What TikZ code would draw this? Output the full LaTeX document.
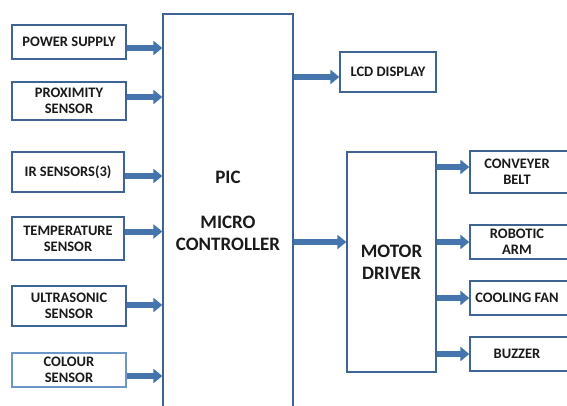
\documentclass[tikz,border=0pt]{standalone}
\usepackage{fontspec}
\setmainfont{Carlito}
\usetikzlibrary{arrows.meta}
\definecolor{bdr}{HTML}{3F6494}
\definecolor{bdrlight}{HTML}{6A96C8}
\definecolor{arrblue}{HTML}{4674AC}
\definecolor{txt}{HTML}{1A1A1A}
\begin{document}
\begin{tikzpicture}[x=1pt, y=-1pt,
	blk/.style={draw=bdr, line width=1.3pt, fill=white, text=txt, align=center, inner sep=0pt,
		font=\bfseries\fontsize{14.5}{16}\selectfont},
	bigblk/.style={blk, font=\bfseries\fontsize{19}{22}\selectfont},
	arr/.style={draw=arrblue, line width=6pt, -{Triangle[length=9pt, width=14pt]}}]
	% Frame:
	\clip (0, 0) rectangle (567, 406);
	\fill[white] (0, 0) rectangle (567, 406);
	% Blocks:
	\node[bigblk, minimum width=130pt, minimum height=394pt] (pic) at (228, 211){PIC\\[23pt]MICRO\\CONTROLLER};
	\node[blk, minimum width=114pt, minimum height=34pt] (ps) at (69, 42){POWER SUPPLY};
	\node[blk, minimum width=114pt, minimum height=38pt] (prox) at (69, 101){PROXIMITY\\SENSOR};
	\node[blk, minimum width=112pt, minimum height=40pt] (ir) at (68, 172){IR SENSORS(3)};
	\node[blk, minimum width=112pt, minimum height=43pt] (temp) at (68, 238.5){TEMPERATURE\\SENSOR};
	\node[blk, minimum width=114pt, minimum height=40pt] (ultra) at (69, 306){ULTRASONIC\\SENSOR};
	\node[blk, draw=bdrlight, minimum width=114pt, minimum height=34pt] (col) at (69, 370){COLOUR\\SENSOR};
	\node[blk, minimum width=96pt, minimum height=40pt] (lcd) at (388, 72){LCD DISPLAY};
	\node[bigblk, minimum width=89pt, minimum height=220pt] (mot) at (391.5, 262){MOTOR\\DRIVER};
	\node[blk, minimum width=110pt, minimum height=42pt] (conv) at (525, 172){\hspace*{-16pt}CONVEYER\\\hspace*{-16pt}BELT};
	\node[blk, minimum width=110pt, minimum height=34pt] (rob) at (525, 242){\hspace*{-16pt}ROBOTIC\\\hspace*{-16pt}ARM};
	\node[blk, minimum width=110pt, minimum height=34pt] (fan) at (525, 298){\hspace*{-16pt}COOLING FAN};
	\node[blk, minimum width=110pt, minimum height=34pt] (buz) at (525, 354){\hspace*{-16pt}BUZZER};
	% Arrow points:
	\coordinate (psout) at ([yshift=-6pt]ps.east);
	\coordinate (proxout) at ([yshift=4pt]prox.east);
	\coordinate (irout) at ([yshift=-4pt]ir.east);
	\coordinate (tempout) at ([yshift=7pt]temp.east);
	\coordinate (ultraout) at ([yshift=1pt]ultra.east);
	\coordinate (colout) at ([yshift=-6pt]col.east);
	\coordinate (lcdin) at ([yshift=-5pt]lcd.west);
	\coordinate (motin) at ([yshift=20pt]mot.west);
	\coordinate (convin) at ([yshift=5pt]conv.west);
	% Inputs:
	\foreach \src in {psout, proxout, irout, tempout, ultraout, colout}
		\draw[arr] (\src) -- (\src -| pic.west);
	% Outputs:
	\draw[arr] (lcdin -| pic.east) -- (lcdin);
	\draw[arr] (motin -| pic.east) -- (motin);
	\draw[arr] (convin -| mot.east) -- (convin);
	\foreach \dst in {rob, fan, buz}
		\draw[arr] (\dst.west -| mot.east) -- (\dst.west);
\end{tikzpicture}
\end{document}
